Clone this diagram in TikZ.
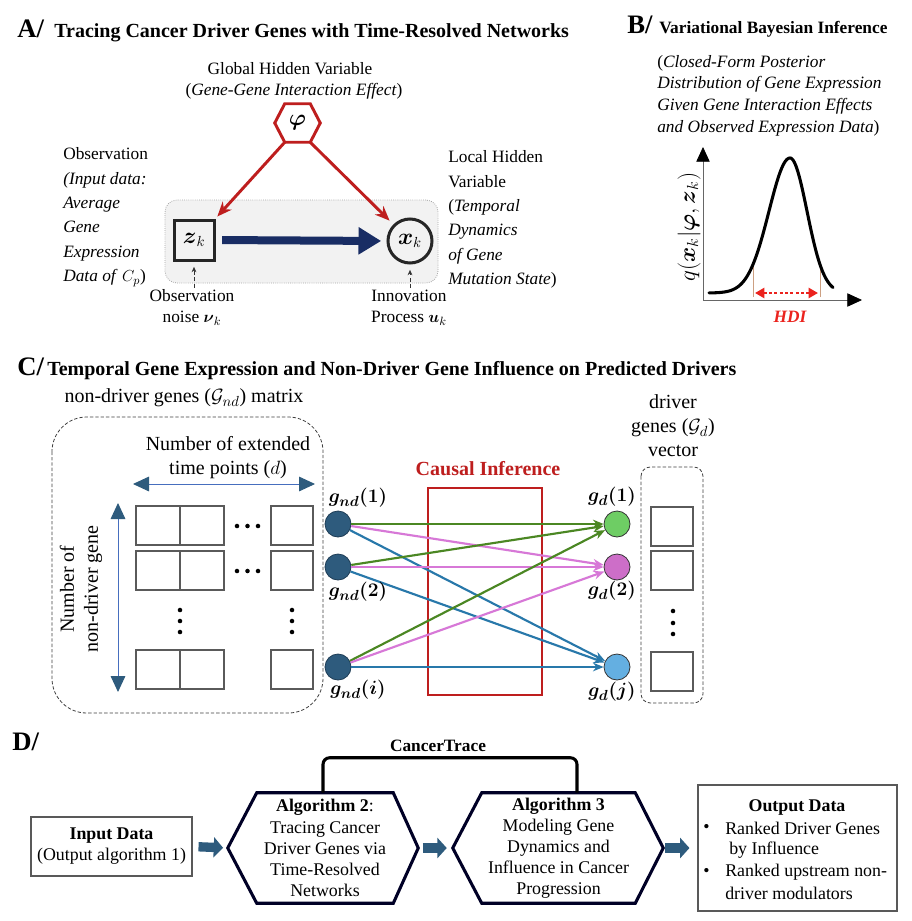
\documentclass[tikz,border=0pt]{standalone}
\usepackage{amsmath,amssymb}
\usepackage{fontspec}
\setmainfont{Liberation Serif}
\usetikzlibrary{arrows.meta,calc}
\definecolor{dred}{RGB}{190,30,30}
\definecolor{navyA}{RGB}{25,45,100}
\definecolor{teal1}{RGB}{46,91,125}
\definecolor{tealdk}{RGB}{30,60,85}
\definecolor{ngreen}{RGB}{110,205,100}
\definecolor{npink}{RGB}{205,110,200}
\definecolor{nblue}{RGB}{100,175,225}
\definecolor{egreen}{RGB}{75,135,35}
\definecolor{epink}{RGB}{215,120,215}
\definecolor{eblue}{RGB}{40,120,170}
\definecolor{hdired}{RGB}{235,35,30}
\definecolor{boxgray}{RGB}{242,242,242}
\definecolor{cellgray}{RGB}{90,90,90}
\definecolor{axlblue}{RGB}{70,110,190}
\definecolor{hdibrown}{RGB}{205,160,130}
\tikzset{
  txtA/.style={font=\fontsize{13}{18.3}\selectfont, inner sep=0pt},
  txtAs/.style={font=\fontsize{13}{15.8}\selectfont, inner sep=0pt},
  txtB/.style={font=\fontsize{13}{16.3}\selectfont, inner sep=0pt},
  txtC/.style={font=\fontsize{15}{18}\selectfont, inner sep=0pt},
  txtD/.style={font=\fontsize{13.4}{15.8}\selectfont, inner sep=0pt},
  titleL/.style={font=\fontsize{20}{20}\selectfont\bfseries, inner sep=0pt, anchor=base west},
  titleT/.style={font=\fontsize{15}{15}\selectfont\bfseries, inner sep=0pt, anchor=base west},
  titleB/.style={font=\fontsize{13}{13}\selectfont\bfseries, inner sep=0pt, anchor=base west},
  hexred/.style={draw=dred, line width=2.2pt, line join=miter},
  redarr/.style={draw=dred, line width=2.2pt, -{Stealth[length=11pt,width=9pt]}},
  navyarr/.style={draw=navyA, line width=6pt, -{Triangle[length=17pt,width=19.5pt]}},
  dasharr/.style={draw=black!80, line width=0.7pt, dash pattern=on 3pt off 2pt, -{Stealth[length=4pt,width=3.5pt]}},
  grpbox/.style={draw=gray!70, fill=boxgray, densely dotted, line width=0.6pt, rounded corners=9pt, minimum width=204.75pt, minimum height=62.25pt},
  zbox/.style={draw=black!85, line width=2.25pt, minimum size=30pt, inner sep=0pt, font=\fontsize{16}{16}\selectfont},
  xcirc/.style={circle, draw=black!85, line width=2.25pt, minimum size=33pt, inner sep=0pt, font=\fontsize{16}{16}\selectfont},
  axisl/.style={draw=gray!80!black, line width=0.6pt, -{Triangle[length=11pt,width=10pt,color=black]}},
  curvel/.style={draw=black, line width=2.3pt, line cap=round},
  hdiline/.style={draw=hdibrown, line width=0.5pt},
  hdiarr/.style={draw=hdired, line width=2.2pt, dash pattern=on 2.2pt off 1.8pt, {Triangle[length=7pt,width=7.5pt]}-{Triangle[length=7pt,width=7.5pt]}},
  dashbox/.style={draw=black!75, line width=0.6pt, dash pattern=on 2.5pt off 1.5pt},
  dblarr/.style={draw=axlblue, line width=0.7pt, {Triangle[length=12pt,width=11pt,color=teal1]}-{Triangle[length=12pt,width=11pt,color=teal1]}},
  cell/.style={draw=cellgray, line width=0.8pt},
  gnd/.style={circle, fill=teal1, draw=tealdk, line width=0.6pt, minimum size=19.5pt, inner sep=0pt},
  gdn/.style={circle, draw=black!80, line width=0.6pt, minimum size=19.5pt, inner sep=0pt},
  edge/.style={line width=1.6pt, -{Stealth[length=8pt,width=6.5pt]}},
  glab/.style={font=\fontsize{15.5}{15.5}\selectfont, inner sep=0pt},
  cibox/.style={draw=dred, line width=2.2pt, minimum width=85.5pt, minimum height=155.25pt},
  citext/.style={font=\fontsize{15}{15}\selectfont\bfseries, text=dred, inner sep=0pt},
  inbox/.style={draw=gray!70!black, line width=0.8pt, minimum width=120.75pt, minimum height=44.25pt, align=center, txtD},
  algnode/.style={minimum height=82.5pt, align=center, txtD},
  hexD/.style={draw=black!85!blue, line width=2.3pt, line join=miter},
  blockarr/.style={draw=teal1, line width=7pt, -{Triangle[length=7pt,width=15pt]}},
  outbox/.style={draw=gray!70!black, line width=0.8pt, minimum width=149.25pt, minimum height=94.5pt},
  bracket/.style={draw=black, line width=2.3pt, rounded corners=5pt},
}
\begin{document}
\begin{tikzpicture}[x=0.75pt,y=-0.75pt]
\useasboundingbox (0,0) rectangle (912,921);
\fill[white] (0,0) rectangle (912,921);

% ---------------- Panel A ----------------
\node[titleL] (tA) at (17,37) {A/};
\node[titleT] (tAt) at (54,37) {Tracing Cancer Driver Genes with Time-Resolved Networks};
\node[txtA] (ghv) at (290,69) {Global Hidden Variable};
\node[txtA] (ggi) at (294,91) {(\textit{Gene-Gene Interaction Effect})};

\node[grpbox] (grp) at (301.5,241.5) {};
\node[minimum width=18.75pt, minimum height=28.5pt, inner sep=0pt, font=\fontsize{16}{16}\selectfont] (phi) at (297.5,123) {$\boldsymbol{\varphi}$};
\draw[hexred] (phi.north west) -- (phi.north east) -- ($(phi.east)+(10,0)$) -- (phi.south east) -- (phi.south west) -- ($(phi.west)+(-10,0)$) -- cycle;
\node[zbox] (zk) at (194,240) {$\boldsymbol{z}_k$};
\node[xcirc] (xk) at (410,241) {$\boldsymbol{x}_k$};
\draw[redarr, shorten >=2pt] (phi.south west) -- (zk.north east);
\draw[redarr, shorten >=4pt] (phi.south east) -- (xk.north west);
\draw[navyarr, shorten <=5pt, shorten >=4pt] (zk.east) -- (xk.west);

\node[txtA, align=left, anchor=west] (obs) at (63,217) {Observation\\\textit{(Input data:}\\\textit{Average}\\\textit{Gene}\\\textit{Expression}\\\textit{Data of }$C_p$)};
\node[txtA, align=left, anchor=west] (lhv) at (448,219.5) {Local Hidden\\Variable\\(\textit{Temporal}\\\textit{Dynamics}\\\textit{of Gene}\\\textit{Mutation State})};

\node[txtAs, align=center] (nlab) at (192,307.5) {Observation\\noise $\boldsymbol{\nu}_k$};
\node[txtAs, align=center] (ilab) at (409,307.5) {Innovation\\Process $\boldsymbol{u}_k$};
\draw[dasharr, shorten <=1pt, shorten >=4pt] (nlab.north -| zk.south) -- (zk.south);
\draw[dasharr, shorten <=1pt, shorten >=4pt] (ilab.north -| xk.south) -- (xk.south);

% ---------------- Panel B ----------------
\node[titleL] (tB) at (627,33) {B/};
\node[titleB] (tBt) at (659,33) {Variational Bayesian Inference};
\node[txtB, align=left, anchor=west] (bdesc) at (657,95.5) {(\textit{Closed-Form Posterior}\\\textit{Distribution of Gene Expression}\\\textit{Given Gene Interaction Effects}\\\textit{and Observed Expression Data})};
\coordinate (O) at (703,300);
\coordinate (ytip) at (703,147);
\coordinate (xtip) at (862,300);
\draw[axisl] (O) -- (ytip);
\draw[axisl] (O) -- (xtip);
\draw[hdiline] (753,265) -- (753,297);
\draw[hdiline] (820,266) -- (820,297);
\draw[curvel] plot[domain=709:790, samples=70] (\x, {293-135*exp(-0.5*((\x-790)/21)*((\x-790)/21))}) -- plot[domain=790:833, samples=50] (\x, {293-135*exp(-0.5*((\x-790)/17)*((\x-790)/17))});
\coordinate (hdiL) at (755,293);
\coordinate (hdiR) at (818,293);
\draw[hdiarr] (hdiL) -- (hdiR);
\node[font=\fontsize{13}{13}\selectfont\bfseries\itshape, text=hdired, inner sep=0pt] (hdi) at (790,317) {HDI};
\node[font=\fontsize{17}{17}\selectfont, inner sep=0pt, rotate=90] (qlab) at (689,227) {$q(\boldsymbol{x}_k|\boldsymbol{\varphi},\boldsymbol{z}_k)$};

% ---------------- Panel C ----------------
\node[titleL] (tC) at (17,375) {C/};
\node[titleT] (tCt) at (47,375) {Temporal Gene Expression and Non-Driver Gene Influence on Predicted Drivers};
\node[txtC] (ndlab) at (184,398) {non-driver genes ($\mathcal{G}_{nd}$) matrix};
\draw[dashbox, rounded corners=26pt] (52,417) rectangle (323,713);
\node[txtC, align=center] (netp) at (228,458) {Number of extended\\time points ($d$)};
\coordinate (hL) at (133,484);
\coordinate (hR) at (315,484);
\draw[dblarr] (hL) -- (hR);
\coordinate (vT) at (118,503);
\coordinate (vB) at (118,692);
\draw[dblarr] (vT) -- (vB);
\node[txtC, align=center, rotate=90] (nng) at (81,589) {Number of\\non-driver gene};
\foreach \yy in {506,551,650} {
  \draw[cell] (136,\yy) rectangle ++(44,39);
  \draw[cell] (180,\yy) rectangle ++(44,39);
  \draw[cell] (271,\yy) rectangle ++(42,39);
}
\foreach \yy in {526,571} \foreach \xx in {237,247.5,258} \fill (\xx,\yy) circle (1.7pt);
\foreach \xx in {180,292} \foreach \yy in {610,621,632} \fill (\xx,\yy) circle (1.7pt);

\node[cibox] (ci) at (485,591.5) {};
\node[citext] (cit) at (488,469) {Causal Inference};

\node[gnd] (g1) at (338,524) {};
\node[gnd] (g2) at (338,567) {};
\node[gnd] (gi) at (338,667) {};
\node[gdn, fill=ngreen] (gd1) at (617,524) {};
\node[gdn, fill=npink] (gd2) at (617,567) {};
\node[gdn, fill=nblue] (gdj) at (617,667) {};

\foreach \s in {g1,g2,gi} {
  \draw[edge, draw=egreen] (\s) -- (gd1);
  \draw[edge, draw=epink] (\s) -- (gd2);
  \draw[edge, draw=eblue] (\s) -- (gdj);
}

\node[glab] (g1l) at (358,498) {$\boldsymbol{g_{nd}(1)}$};
\node[glab] (g2l) at (358,592) {$\boldsymbol{g_{nd}(2)}$};
\node[glab] (gil) at (358,690) {$\boldsymbol{g_{nd}(i)}$};
\node[glab] (gd1l) at (612,497) {$\boldsymbol{g_{d}(1)}$};
\node[glab] (gd2l) at (612,591) {$\boldsymbol{g_{d}(2)}$};
\node[glab] (gdjl) at (612,692) {$\boldsymbol{g_{d}(j)}$};

\node[txtC, align=center] (dlab) at (673,426) {driver\\genes ($\mathcal{G}_d$)\\vector};
\draw[dashbox, rounded corners=7pt] (641,467) rectangle (703,703);
\foreach \yy in {507,551,652} \draw[cell] (651,\yy) rectangle ++(42,39);
\foreach \yy in {611,623,634} \fill (673,\yy) circle (1.7pt);

% ---------------- Panel D ----------------
\node[titleL] (tD) at (12,750) {D/};
\node[font=\fontsize{13}{13}\selectfont\bfseries, inner sep=0pt] (ct) at (438,746) {CancerTrace};
\node[inbox] (inp) at (111.5,846.5) {\textbf{Input Data}\\(Output algorithm 1)};
\node[algnode, minimum width=102pt] (alg2) at (325,848) {\textbf{Algorithm 2}:\\Tracing Cancer\\Driver Genes via\\Time-Resolved\\Networks};
\coordinate (alg2L) at ($(alg2.west)+(-29,0)$);
\coordinate (alg2R) at ($(alg2.east)+(25,0)$);
\draw[hexD] (alg2.north west) -- (alg2.north east) -- (alg2R) -- (alg2.south east) -- (alg2.south west) -- (alg2L) -- cycle;
\node[algnode, minimum width=114.75pt] (alg3) at (558.5,848) {\textbf{Algorithm 3}\\Modeling Gene\\Dynamics and\\Influence in Cancer\\Progression};
\coordinate (alg3L) at ($(alg3.west)+(-29,0)$);
\coordinate (alg3R) at ($(alg3.east)+(28,0)$);
\draw[hexD] (alg3.north west) -- (alg3.north east) -- (alg3R) -- (alg3.south east) -- (alg3.south west) -- (alg3L) -- cycle;
\node[outbox] (outb) at (797.5,848) {};
\node[txtD] (od1) at (797,807) {\textbf{Output Data}};
\node[txtD, anchor=west] (ob1) at (703,828) {•};
\node[txtD, anchor=west] (or1) at (725,828) {Ranked Driver Genes};
\node[txtD, anchor=west] (or2) at (729,850) {by Influence};
\node[txtD, anchor=west] (ob2) at (703,872) {•};
\node[txtD, anchor=west] (or3) at (725,872) {Ranked upstream non-};
\node[txtD, anchor=west] (or4) at (725,893) {driver modulators};

\draw[blockarr, shorten <=4.5pt, shorten >=3.5pt] (inp.east) -- (alg2L);
\draw[blockarr, shorten <=3.5pt, shorten >=4.5pt] (alg2R) -- (alg3L);
\draw[blockarr, shorten <=1.5pt, shorten >=6pt] (alg3R) -- (outb.west);
\draw[bracket] ($(alg2.north)+(-2,0)$) -- ++(0,-35) -- ($(alg3.north)+(18.5,-35)$) -- ($(alg3.north)+(18.5,0)$);
\end{tikzpicture}
\end{document}
